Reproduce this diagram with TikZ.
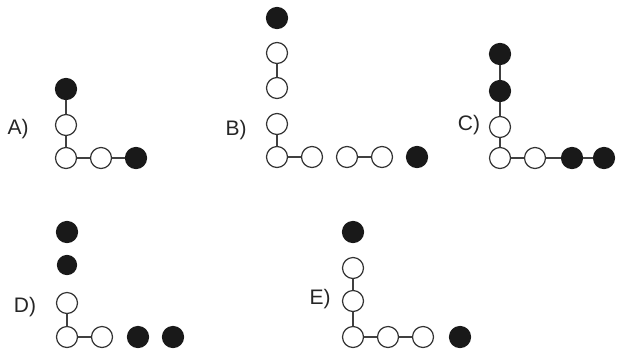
\documentclass[tikz,border=0pt]{standalone}
\usepackage{fontspec}
\setmainfont{Liberation Sans}
\usetikzlibrary{positioning}
\begin{document}
\begin{tikzpicture}[x=1pt,y=-1pt,
  wbead/.style={circle,draw=black!80,line width=1.2pt,fill=white,minimum size=21pt,inner sep=0pt},
  bbead/.style={wbead,fill=black!90,draw=black!90},
  bond/.style={draw=black!75,line width=1.2pt},
  tag/.style={font=\fontsize{21}{21}\selectfont,text=black!85}
]
\useasboundingbox (0,0) rectangle (617,354);
% A
\node[tag] (la) at (18,129) {A)};
\node[wbead] (a1) at (66,158) {};
\node[wbead] (a2) at (66,125) {};
\node[bbead] (a3) at (66,89) {};
\node[wbead] (a4) at (101,158) {};
\node[bbead] (a5) at (136,158) {};
\foreach \a/\b in {a1/a2,a2/a3,a1/a4,a4/a5}{\draw[bond] (\a) -- (\b);}
% B
\node[tag] (lb) at (236,130) {B)};
\node[wbead] (b1) at (277,157) {};
\node[wbead] (b2) at (277,124) {};
\node[wbead] (b3) at (277,88) {};
\node[wbead] (b4) at (277,53) {};
\node[bbead] (b5) at (277,18) {};
\node[wbead] (b6) at (312,157) {};
\node[wbead] (b7) at (347,157) {};
\node[wbead] (b8) at (382,157) {};
\node[bbead] (b9) at (417,157) {};
\foreach \a/\b in {b1/b2,b3/b4,b1/b6,b7/b8}{\draw[bond] (\a) -- (\b);}
% C
\node[tag] (lc) at (469,125) {C)};
\node[wbead] (c1) at (500,158) {};
\node[wbead] (c2) at (500,127) {};
\node[bbead] (c3) at (500,91) {};
\node[bbead] (c4) at (500,54) {};
\node[wbead] (c5) at (535,158) {};
\node[bbead] (c6) at (572,158) {};
\node[bbead] (c7) at (604,158) {};
\foreach \a/\b in {c1/c2,c2/c3,c3/c4,c1/c5,c5/c6,c6/c7}{\draw[bond] (\a) -- (\b);}
% D
\node[tag] (ld) at (25,307) {D)};
\node[wbead] (d1) at (67,337) {};
\node[wbead] (d2) at (67,303) {};
\node[bbead,minimum size=19pt] (d3) at (67,265) {};
\node[bbead] (d4) at (67,232) {};
\node[wbead] (d5) at (102,337) {};
\node[bbead] (d6) at (138,337) {};
\node[bbead] (d7) at (173,337) {};
\foreach \a/\b in {d1/d2,d1/d5}{\draw[bond] (\a) -- (\b);}
% E
\node[tag] (le) at (320,299) {E)};
\node[wbead] (e1) at (353,337) {};
\node[wbead] (e2) at (353,301) {};
\node[wbead] (e3) at (353,268) {};
\node[bbead] (e4) at (353,232) {};
\node[wbead] (e5) at (388,337) {};
\node[wbead] (e6) at (423,337) {};
\node[bbead] (e7) at (460,337) {};
\foreach \a/\b in {e1/e2,e2/e3,e1/e5,e5/e6}{\draw[bond] (\a) -- (\b);}
\end{tikzpicture}
\end{document}
